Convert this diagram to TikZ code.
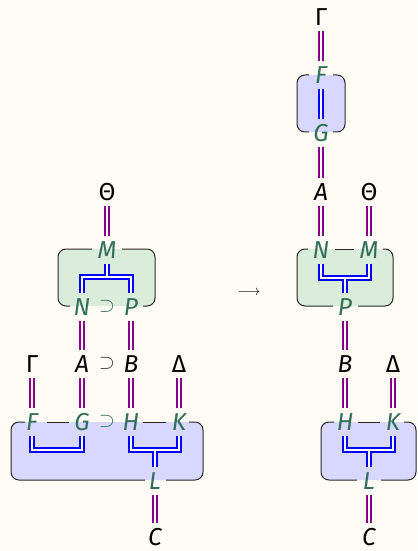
\documentclass[tikz,border=0pt]{standalone}
\usepackage{fontspec}
\setmainfont{Fira Sans}
\definecolor{bgc}{HTML}{FFFBF5}
\definecolor{tealc}{RGB}{50,110,90}
\definecolor{magc}{RGB}{136,0,136}
\definecolor{gfill}{RGB}{217,237,218}
\definecolor{bfill}{RGB}{216,216,255}
\definecolor{edgec}{RGB}{40,40,40}
\begin{document}
\begin{tikzpicture}[x=1bp,y=-1bp,
  base/.style={inner sep=0pt, text height=16.5bp, text depth=0pt,
    minimum height=28.5bp, minimum width=20bp},
  var/.style={base, text=tealc, font=\fontsize{24.5bp}{28bp}\selectfont\itshape},
  ext/.style={base, text=black, font=\fontsize{24.5bp}{28bp}\selectfont\itshape},
  grk/.style={base, text=black, font=\fontsize{24.5bp}{28bp}\selectfont},
  supv/.style={base, text=tealc, font=\fontsize{19bp}{22bp}\selectfont},
  supe/.style={base, text=black!80, font=\fontsize{19bp}{22bp}\selectfont},
  mag/.style={draw=magc, line width=1.9bp, double=bgc, double distance=1.6bp},
  blu/.style={draw=white, line width=1.6bp, preaction={draw=blue, line width=5.4bp}},
  box/.style={draw=edgec, line width=1bp, rounded corners=8bp}
]
\fill[bgc] (0,0) rectangle (417,551);
\useasboundingbox (0,0) rectangle (417,551);

% box fills
\fill[gfill, rounded corners=8bp] (58,249) rectangle (155,306);
\fill[bfill, rounded corners=8bp] (11,422) rectangle (203,480);
\fill[bfill, rounded corners=8bp] (297,75) rectangle (345,132);
\fill[gfill, rounded corners=8bp] (297,249) rectangle (393,306);
\fill[bfill, rounded corners=8bp] (321,422) rectangle (416,480);

% box borders, interrupted by the labels
\draw[box] (92,249) -- (58,249) -- (58,306) -- (70,306);
\draw[box] (122,249) -- (155,249) -- (155,306) -- (143,306);
\draw[box] (25,422) -- (11,422) -- (11,480) -- (145,480);
\draw[box] (47,422) -- (69,422);
\draw[box] (143,422) -- (166,422);
\draw[box] (189,422) -- (203,422) -- (203,480) -- (166,480);
\draw[box] (309,75) -- (297,75) -- (297,132) -- (309,132);
\draw[box] (333,75) -- (345,75) -- (345,132) -- (333,132);
\draw[box] (308,249) -- (297,249) -- (297,306) -- (333,306);
\draw[box] (335,249) -- (354,249);
\draw[box] (383,249) -- (393,249) -- (393,306) -- (358,306);
\draw[box] (334,422) -- (321,422) -- (321,480) -- (357,480);
\draw[box] (358,422) -- (380,422);
\draw[box] (404,422) -- (416,422) -- (416,480) -- (381,480);

% left diagram labels
\node[grk] (Th1) at (107,192) {Θ};
\node[var] (M1) at (107,250) {M};
\node[var] (N1) at (82,307) {N};
\node[supv] (s1) at (107,307) {\raisebox{4bp}{$\supset$}};
\node[var] (P1) at (131,307) {P};
\node[grk] (Ga1) at (32,364) {Γ};
\node[ext] (A1) at (82,364) {A};
\node[supe] (s2) at (107,364) {\raisebox{4bp}{$\supset$}};
\node[ext] (B1) at (131,364) {B};
\node[grk] (De1) at (179,364) {Δ};
\node[var] (F1) at (32,422) {F};
\node[var] (G1) at (82,422) {G};
\node[supv] (s3) at (107,422) {\raisebox{4bp}{$\supset$}};
\node[var] (H1) at (131,422) {H};
\node[var] (K1) at (179,422) {K};
\node[var] (L1) at (155,481) {L};
\node[ext] (C1) at (155,537) {C};

% arrow
\node[grk, font=\fontsize{14bp}{16bp}\selectfont] (arr) at (249,287) {$\longrightarrow$};

% right diagram labels
\node[grk] (Ga2) at (321,17) {Γ};
\node[var] (F2) at (321,75) {F};
\node[var] (G2) at (321,133) {G};
\node[ext] (A2) at (321,192) {A};
\node[grk] (Th2) at (369,192) {Θ};
\node[var] (N2) at (321,250) {N};
\node[var] (M2) at (369,250) {M};
\node[var] (P2) at (345,307) {P};
\node[ext] (B2) at (345,364) {B};
\node[grk] (De2) at (393,364) {Δ};
\node[var] (H2) at (345,422) {H};
\node[var] (K2) at (393,422) {K};
\node[var] (L2) at (369,481) {L};
\node[ext] (C2) at (369,537) {C};

% junction points
\coordinate (j1) at (107,277);
\coordinate (c2) at (82,450);
\coordinate (j2) at (155,450);
\coordinate (j3) at (345,278);
\coordinate (j4) at (369,450);

% blue double wires inside the boxes
\draw[blu] (N1.north) |- (j1) -| (P1.north) (M1.south) -- (j1);
\draw[blu] (F1.south) |- (c2) -- (G1.south);
\draw[blu] (H1.south) |- (j2) -| (K1.south) (j2) -- (L1.north);
\draw[blu] (F2.south) -- (G2.north);
\draw[blu] (N2.south) |- (j3) -| (M2.south) (j3) -- (P2.north);
\draw[blu] (H2.south) |- (j4) -| (K2.south) (j4) -- (L2.north);

% magenta double wires
\draw[mag] (Th1.south) -- (M1.north);
\draw[mag] (N1.south) -- (A1.north);
\draw[mag] (P1.south) -- (B1.north);
\draw[mag] (Ga1.south) -- (F1.north);
\draw[mag] (A1.south) -- (G1.north);
\draw[mag] (B1.south) -- (H1.north);
\draw[mag] (De1.south) -- (K1.north);
\draw[mag] (L1.south) -- (C1.north);
\draw[mag] (Ga2.south) -- (F2.north);
\draw[mag] (G2.south) -- (A2.north);
\draw[mag] (A2.south) -- (N2.north);
\draw[mag] (Th2.south) -- (M2.north);
\draw[mag] (P2.south) -- (B2.north);
\draw[mag] (B2.south) -- (H2.north);
\draw[mag] (De2.south) -- (K2.north);
\draw[mag] (L2.south) -- (C2.north);
\end{tikzpicture}
\end{document}
